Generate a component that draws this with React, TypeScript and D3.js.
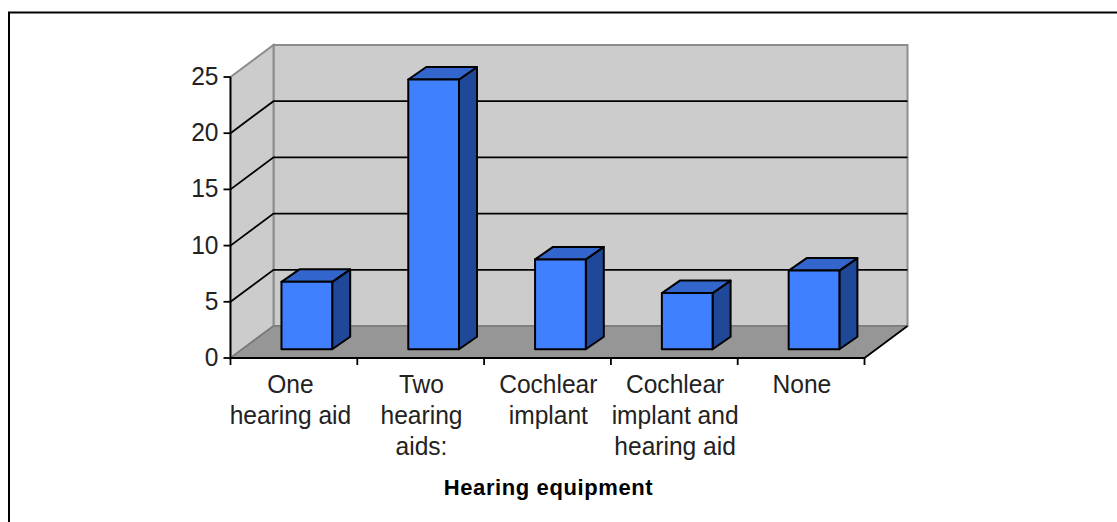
import React from "react";
import * as d3 from "d3";

const categories = ["One hearing aid", "Two hearing aids:", "Cochlear implant", "Cochlear implant and hearing aid", "None"];
const categoryLines = [["One", "hearing aid"], ["Two", "hearing", "aids:"], ["Cochlear", "implant"], ["Cochlear", "implant and", "hearing aid"], ["None"]];
const values = [6, 24, 8, 5, 7];
const yTicks = [0, 5, 10, 15, 20, 25];
const axisTitle = "Hearing equipment";

const W = 1117, H = 522;
const x0 = 230.5, x1 = 864.5, y0 = 358, y25 = 77;
const depthX = 43, depthY = 32;
const barDX = 18, barDY = 12.5, barLift = 8.7;
const font = "'Liberation Sans', Arial, sans-serif";

const x = d3.scaleBand<string>().domain(categories).range([x0, x1]).paddingInner(0.6).paddingOuter(0.3).align(0.67);
const y = d3.scaleLinear().domain([0, 25]).range([y0, y25]);
const step = x.step();
const poly = (p: number[][]) => d3.line()(p as [number, number][]) + "Z";
const labelShift = (i: number) => (i === 0 ? -3.5 : 0.8);
const squeeze = 0.945;

export default function App() {
  return (
    <svg width={W} height={H} style={{ position: "absolute", left: 0, top: 0, display: "block" }} fontFamily={font}>
      <path d={`M9 ${H}V12.5H${W}`} fill="none" stroke="#000" strokeWidth={2} />
      {/* walls */}
      <path d={poly([[x0 + depthX, y25 - depthY], [x1 + depthX, y25 - depthY], [x1 + depthX, y0 - depthY], [x0 + depthX, y0 - depthY]])} fill="#cccccc" stroke="#8c8c8c" strokeWidth={2} />
      <path d={poly([[x0, y25], [x0 + depthX, y25 - depthY], [x0 + depthX, y0 - depthY], [x0, y0]])} fill="#cccccc" stroke="#8c8c8c" strokeWidth={2} />
      <path d={poly([[x0, y0], [x0 + depthX, y0 - depthY], [x1 + depthX, y0 - depthY], [x1, y0]])} fill="#969696" />
      <line x1={x0} y1={y0} x2={x0 + depthX} y2={y0 - depthY} stroke="#777" strokeWidth={1.5} />
      <line x1={x0 + depthX} y1={y0 - depthY} x2={x1 + depthX} y2={y0 - depthY} stroke="#6e6e6e" strokeWidth={1} />
      <line x1={x1} y1={y0} x2={x1 + depthX} y2={y0 - depthY} stroke="#000" strokeWidth={1.8} />
      {/* gridlines */}
      {yTicks.slice(1, -1).map((t) => (
        <path key={t} d={`M${x0} ${y(t)}L${x0 + depthX} ${y(t) - depthY}H${x1 + depthX}`} fill="none" stroke="#000" strokeWidth={1.8} />
      ))}
      {/* axes */}
      <line x1={x0} y1={y25} x2={x0} y2={y0} stroke="#000" strokeWidth={1.8} />
      <line x1={x0} y1={y0} x2={x1} y2={y0} stroke="#000" strokeWidth={1.8} />
      {yTicks.map((t) => (
        <g key={t}>
          <line x1={x0 - 7} x2={x0} y1={y(t)} y2={y(t)} stroke="#000" strokeWidth={1.8} />
          <text transform={`translate(218.5 ${y(t) + 8}) scale(${squeeze} 1)`} textAnchor="end" fontSize={26} fill="#222">{t}</text>
        </g>
      ))}
      {d3.range(categories.length + 1).map((i) => (
        <line key={i} x1={x0 + i * step} x2={x0 + i * step} y1={y0} y2={y0 + 7} stroke="#000" strokeWidth={1.8} />
      ))}
      {/* bars */}
      {categories.map((c, i) => {
        const l = x(c)!, r = l + x.bandwidth();
        const b = y(0) - barLift;
        const t = y(values[i]) - barLift;
        return (
          <g key={c} stroke="#000" strokeWidth={2} strokeLinejoin="round">
            <path d={poly([[r, t], [r + barDX, t - barDY], [r + barDX, b - barDY], [r, b]])} fill="#204898" />
            <path d={poly([[l, t], [l + barDX, t - barDY], [r + barDX, t - barDY], [r, t]])} fill="#3366cc" />
            <rect x={l} y={t} width={r - l} height={b - t} fill="#4080ff" />
          </g>
        );
      })}
      {/* category labels */}
      {categoryLines.map((lines, i) => (
        <g key={i}>
          {lines.map((s, j) => (
            <text key={j} transform={`translate(${x0 + (i + 0.5) * step + labelShift(i)} ${393.3 + j * 30.6}) scale(${squeeze} 1)`} textAnchor="middle" fontSize={26} fill="#222">{s}</text>
          ))}
        </g>
      ))}
      <text x={548.5} y={495} textAnchor="middle" fontSize={22} fontWeight="bold" letterSpacing={0.6} fill="#000">{axisTitle}</text>
    </svg>
  );
}
